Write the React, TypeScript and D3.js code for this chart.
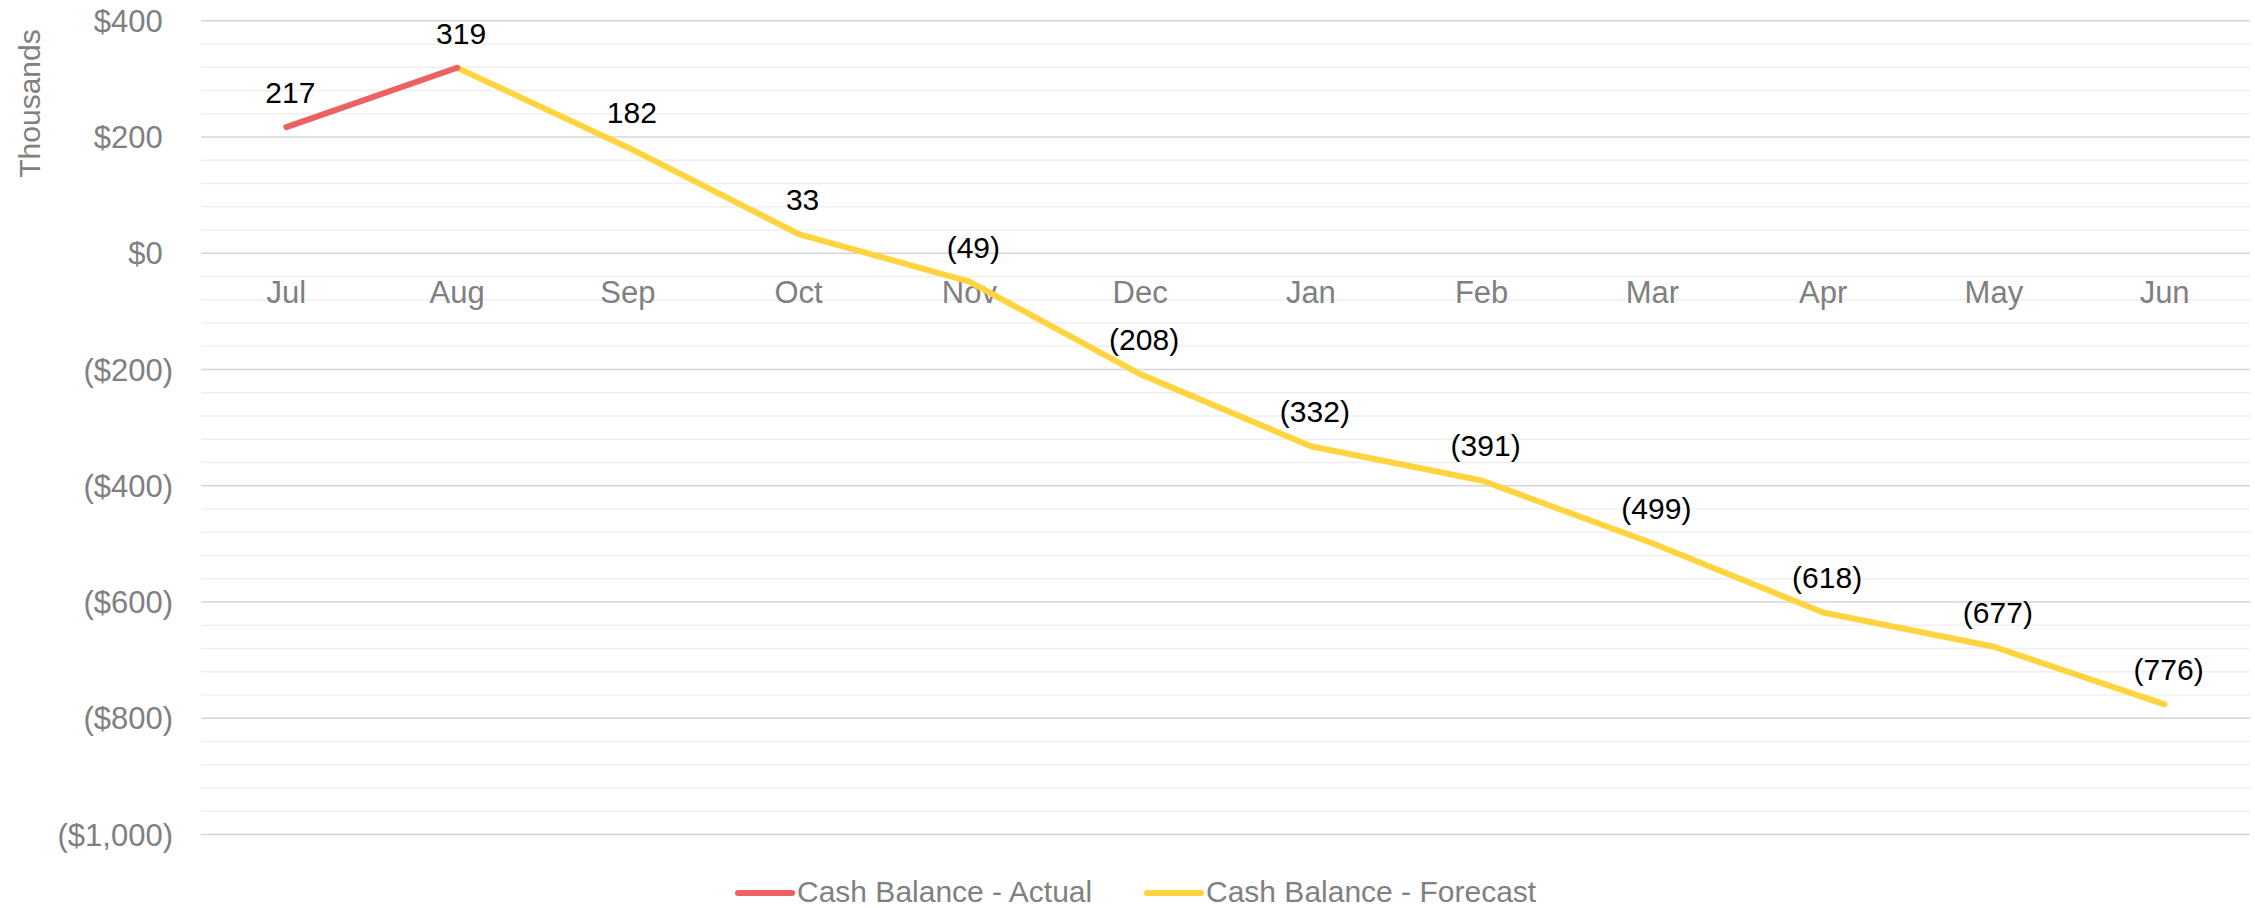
import React from "react";
import * as d3 from "d3";

const months = ["Jul", "Aug", "Sep", "Oct", "Nov", "Dec", "Jan", "Feb", "Mar", "Apr", "May", "Jun"];
const actualMonths = ["Jul", "Aug"];
const actualValues = [217, 319];
const forecastMonths = ["Aug", "Sep", "Oct", "Nov", "Dec", "Jan", "Feb", "Mar", "Apr", "May", "Jun"];
const forecastValues = [319, 182, 33, -49, -208, -332, -391, -499, -618, -677, -776];
const majorTicks = [400, 200, 0, -200, -400, -600, -800, -1000];
const minorStep = 40;
const seriesNames = ["Cash Balance - Actual", "Cash Balance - Forecast"];
const seriesColors = ["#EE6161", "#FFD43E"];

const W = 2255;
const H = 908;
const FONT = "'Liberation Sans', Arial, sans-serif";

function fmtAxis(v: number) {
  const s = d3.format(",")(Math.abs(v));
  return v < 0 ? `($${s})` : `$${s}`;
}
function fmtLabel(v: number) {
  return v < 0 ? `(${Math.abs(v)})` : `${v}`;
}

export default function App() {
  const x = d3.scaleBand<string>().domain(months).range([201, 2250]);
  const y = d3.scaleLinear().domain([-1000, 400]).range([834.5, 20.7]);
  const cx = (m: string) => (x(m) as number) + x.bandwidth() / 2;

  const minorTicks = d3.range(-1000, 400 + 1, minorStep).filter((v) => v % 200 !== 0);

  const line = d3
    .line<[string, number]>()
    .x((d) => cx(d[0]))
    .y((d) => y(d[1]));

  const actual: [string, number][] = actualMonths.map((m, i) => [m, actualValues[i]]);
  const forecast: [string, number][] = forecastMonths.map((m, i) => [m, forecastValues[i]]);

  const labels: [string, number][] = [
    ...actual,
    ...forecast.filter((d) => !actualMonths.includes(d[0])),
  ];

  const [x0, x1] = x.range();
  const axisFont = 31;
  const parenW = axisFont * 0.333;

  return (
    <svg
      width={W}
      height={H}
      style={{ position: "absolute", left: 0, top: 0, background: "#fff" }}
      fontFamily={FONT}
    >
      {minorTicks.map((v) => (
        <line key={"mi" + v} x1={x0} x2={x1} y1={y(v)} y2={y(v)} stroke="#EFEFEF" strokeWidth={1.5} />
      ))}
      {majorTicks.map((v) => (
        <line key={"ma" + v} x1={x0} x2={x1} y1={y(v)} y2={y(v)} stroke="#D6D6D6" strokeWidth={1.5} />
      ))}
      {majorTicks.map((v) => (
        <text
          key={"yl" + v}
          x={v < 0 ? 173 : 173 - parenW}
          y={y(v)}
          dy="0.36em"
          textAnchor="end"
          fontSize={axisFont}
          fill="#808080"
        >
          {fmtAxis(v)}
        </text>
      ))}
      <text
        transform="translate(40,103.5) rotate(-90)"
        textAnchor="middle"
        fontSize={30}
        fill="#808080"
      >
        Thousands
      </text>
      {months.map((m) => (
        <text key={"xl" + m} x={cx(m)} y={303} textAnchor="middle" fontSize={axisFont} fill="#808080">
          {m}
        </text>
      ))}
      <path d={line(forecast) as string} fill="none" stroke={seriesColors[1]} strokeWidth={6} strokeLinecap="round" strokeLinejoin="round" />
      <path d={line(actual) as string} fill="none" stroke={seriesColors[0]} strokeWidth={6} strokeLinecap="round" strokeLinejoin="round" />
      {labels.map(([m, v]) => (
        <text key={"dl" + m} x={cx(m) + 4} y={y(v) - 24} textAnchor="middle" fontSize={30} fill="#000">
          {fmtLabel(v)}
        </text>
      ))}
      {/* legend */}
      <line x1={738} x2={792} y1={893} y2={893} stroke={seriesColors[0]} strokeWidth={6} strokeLinecap="round" />
      <text x={797} y={902} fontSize={30} fill="#808080">{seriesNames[0]}</text>
      <line x1={1147} x2={1201} y1={893} y2={893} stroke={seriesColors[1]} strokeWidth={6} strokeLinecap="round" />
      <text x={1206} y={902} fontSize={30} fill="#808080">{seriesNames[1]}</text>
    </svg>
  );
}
